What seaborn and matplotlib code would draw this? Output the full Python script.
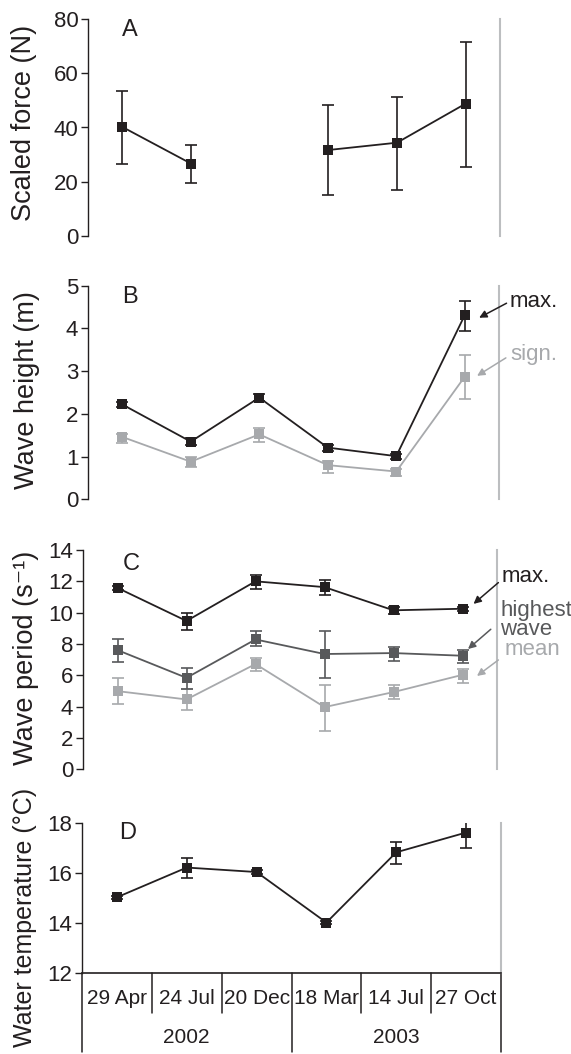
import numpy as np
import pandas as pd
import matplotlib.pyplot as plt
import seaborn as sns

# sampling dates / years
dates = ["29 Apr", "24 Jul", "20 Dec", "18 Mar", "14 Jul", "27 Oct"]
years = ["2002", "2003"]

# A - scaled force (N), mean with lower/upper error limits
force = [40.2, 26.7, np.nan, 31.7, 34.4, 48.8]
force_lo = [26.6, 19.7, np.nan, 15.0, 17.1, 25.4]
force_hi = [53.5, 33.5, np.nan, 48.2, 51.2, 71.7]

# B - wave height (m)
hmax = [2.22, 1.35, 2.38, 1.21, 1.01, 4.31]
hmax_lo = [2.16, 1.27, 2.29, 1.14, 0.95, 3.95]
hmax_hi = [2.28, 1.43, 2.47, 1.28, 1.07, 4.64]
hsig = [1.46, 0.88, 1.52, 0.80, 0.65, 2.87]
hsig_lo = [1.31, 0.75, 1.35, 0.61, 0.55, 2.34]
hsig_hi = [1.54, 0.98, 1.68, 0.90, 0.72, 3.38]

# C - wave period
pmax = [11.58, 9.47, 12.0, 11.63, 10.15, 10.25]
pmax_lo = [11.45, 8.9, 11.48, 11.1, 9.89, 10.12]
pmax_hi = [11.7, 9.96, 12.43, 12.07, 10.36, 10.38]
phigh = [7.61, 5.84, 8.29, 7.36, 7.42, 7.25]
phigh_lo = [6.87, 5.14, 7.84, 5.81, 6.89, 6.77]
phigh_hi = [8.35, 6.49, 8.8, 8.84, 7.82, 7.63]
pmean = [4.99, 4.46, 6.72, 3.97, 4.93, 6.03]
pmean_lo = [4.19, 3.76, 6.26, 2.43, 4.46, 5.52]
pmean_hi = [5.81, 5.14, 7.08, 5.41, 5.41, 6.41]

# D - water temperature (deg C)
temp = [15.04, 16.23, 16.05, 14.03, 16.84, 17.63]
temp_lo = [14.97, 15.8, 15.98, 13.97, 16.36, 17.03]
temp_hi = [15.1, 16.6, 16.12, 14.09, 17.25, 18.09]

BLACK = "#231f20"
DARK = "#58595b"
LIGHT = "#a7a9ac"
EDGE = "#bcbec0"

sns.set_style("ticks")
plt.rcParams["font.family"] = ["Liberation Sans", "DejaVu Sans"]
plt.rcParams["text.color"] = BLACK

W, H = 571, 1054
fig = plt.figure(figsize=(W / 100, H / 100), dpi=100)


def add_axes(x0, x1, ytop, ybot):
    # pixel box -> figure fraction
    return fig.add_axes([x0 / W, (H - ybot) / H, (x1 - x0) / W, (ybot - ytop) / H])


def draw_series(ax, vals, lo, hi, color):
    vals = np.array(vals, dtype=float)
    lo = np.array(lo, dtype=float)
    hi = np.array(hi, dtype=float)
    pos = np.arange(len(vals))
    seg = np.cumsum(np.isnan(vals))
    df = pd.DataFrame({"pos": pos, "val": vals, "seg": seg}).dropna()
    ok = ~np.isnan(vals)
    ax.errorbar(pos[ok], vals[ok], yerr=[vals[ok] - lo[ok], hi[ok] - vals[ok]],
                fmt="none", ecolor=color, elinewidth=1.2, capsize=4.5, capthick=1.2, zorder=2)
    sns.lineplot(data=df, x="pos", y="val", units="seg", estimator=None, ax=ax,
                 color=color, lw=1.3, marker="s", markersize=6.5, markeredgewidth=0,
                 zorder=3, legend=False)


def style(ax, ymax, yticks, ymin=0, bottom=False):
    ax.set_xlim(-0.5, 5.5)
    ax.set_ylim(ymin, ymax)
    ax.set_yticks(yticks)
    ax.set_xlabel("")
    sns.despine(ax=ax, top=True, right=False, bottom=not bottom)
    ax.spines["left"].set_color(BLACK)
    ax.spines["left"].set_linewidth(1.0)
    ax.spines["right"].set_color(EDGE)
    ax.spines["right"].set_linewidth(1.5)
    ax.tick_params(axis="y", length=5, width=1, color=BLACK, labelsize=16,
                   labelcolor=BLACK, pad=2)
    if not bottom:
        ax.set_xticks([])


def ylab(ax, text, xpix, ypos, size=19.5):
    ax.set_ylabel(text, fontsize=size, color=BLACK, va="center")
    bb = ax.get_position()
    ax.yaxis.set_label_coords((xpix / W - bb.x0) / bb.width, ypos)


def arrow(ax, head, tail, color):
    ax.annotate("", xy=head, xytext=tail, annotation_clip=False,
                arrowprops=dict(arrowstyle="-|>", color=color, lw=1.1,
                                mutation_scale=11, shrinkA=0, shrinkB=0))


# ---------------- A ----------------
axA = add_axes(88, 500, 19, 236)
draw_series(axA, force, force_lo, force_hi, BLACK)
style(axA, 80, [0, 20, 40, 60, 80])
ylab(axA, "Scaled force (N)", 24, 0.52)
axA.text(0.102, 1.0, "A", transform=axA.transAxes, fontsize=17, ha="center", va="top")

# ---------------- B ----------------
axB = add_axes(88, 499, 285.7, 499.3)
draw_series(axB, hsig, hsig_lo, hsig_hi, LIGHT)
draw_series(axB, hmax, hmax_lo, hmax_hi, BLACK)
style(axB, 5, [0, 1, 2, 3, 4, 5])
ylab(axB, "Wave height (m)", 27, 0.51)
axB.text(0.102, 1.0, "B", transform=axB.transAxes, fontsize=17, ha="center", va="top")
axB.text(5.66, 4.64, "max.", fontsize=16, color=BLACK, va="center", ha="left", clip_on=False)
axB.text(5.66, 3.38, "sign.", fontsize=16, color=LIGHT, va="center", ha="left", clip_on=False)
arrow(axB, (5.21, 4.25), (5.61, 4.59), BLACK)
arrow(axB, (5.18, 2.89), (5.60, 3.31), LIGHT)

# ---------------- C ----------------
axC = add_axes(83, 497, 550, 769.3)
draw_series(axC, pmean, pmean_lo, pmean_hi, LIGHT)
draw_series(axC, phigh, phigh_lo, phigh_hi, DARK)
draw_series(axC, pmax, pmax_lo, pmax_hi, BLACK)
style(axC, 14, [0, 2, 4, 6, 8, 10, 12, 14])
ylab(axC, "Wave period (s⁻¹)", 26, 0.51)
axC.text(0.116, 0.986, "C", transform=axC.transAxes, fontsize=17, ha="center", va="top")
axC.text(5.57, 12.34, "max.", fontsize=16, color=BLACK, va="center", ha="left", clip_on=False)
axC.text(5.55, 9.53, "highest\nwave", fontsize=16, color=DARK, va="center", ha="left",
         linespacing=0.85, clip_on=False)
axC.text(5.61, 7.62, "mean", fontsize=16, color=LIGHT, va="center", ha="left", clip_on=False)
arrow(axC, (5.16, 10.56), (5.52, 11.92), BLACK)
arrow(axC, (5.08, 7.68), (5.41, 8.94), DARK)
arrow(axC, (5.21, 5.96), (5.52, 6.98), LIGHT)

# ---------------- D ----------------
axD = add_axes(82, 501, 823.3, 973.3)
draw_series(axD, temp, temp_lo, temp_hi, BLACK)
style(axD, 18, [12, 14, 16, 18], ymin=12, bottom=True)
axD.spines["bottom"].set_color(BLACK)
axD.spines["bottom"].set_linewidth(1.2)
ylab(axD, "Water temperature (°C)", 25, 0.37, size=18)
axD.text(0.109, 1.01, "D", transform=axD.transAxes, fontsize=17, ha="center", va="top")
axD.set_xticks(range(len(dates)))
axD.set_xticklabels(dates)
axD.tick_params(axis="x", length=0, labelsize=15, labelcolor=BLACK, pad=11)

# date table below the axis
for b in np.arange(-0.5, len(dates), 1.0):
    full = b in (-0.5, 2.5, 5.5)
    axD.axvline(b, ymin=-0.527 if full else -0.267, ymax=0, color=BLACK, lw=1.1,
                clip_on=False)
tr = axD.get_xaxis_transform()
for i, yr in enumerate(years):
    axD.text(1 + 3 * i, -0.425, yr, transform=tr, fontsize=15, ha="center", va="center")

fig.savefig("out.png", dpi=100)
